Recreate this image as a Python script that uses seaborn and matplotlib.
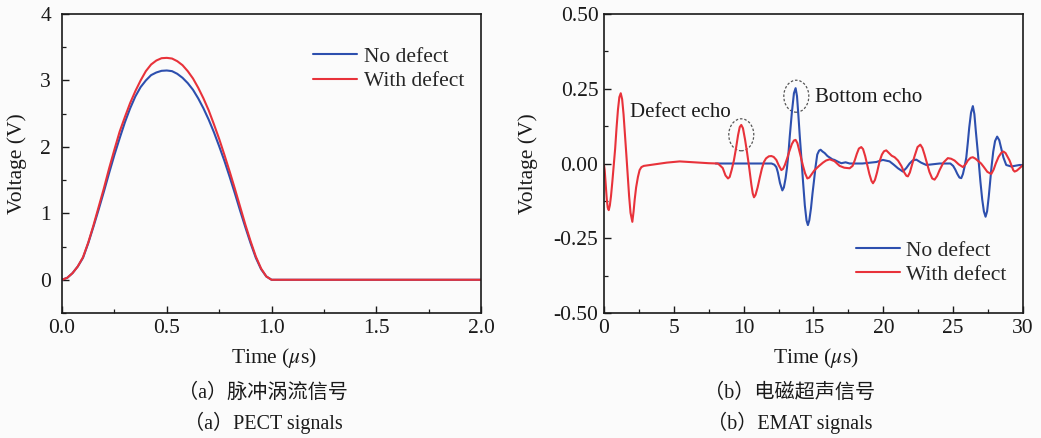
import matplotlib
matplotlib.use("Agg")
import matplotlib.pyplot as plt
from matplotlib.patches import Ellipse
from matplotlib.ticker import MultipleLocator, FormatStrFormatter
import pandas as pd
import seaborn as sns

# ---------------- data ----------------
series_labels = ["No defect", "With defect"]
series_colors = ["#2d4fae", "#e8323a"]

# (a) PECT signals
pect_time = [0.000, 0.025, 0.050, 0.075, 0.100, 0.125, 0.150, 0.175, 0.200, 0.225,
             0.250, 0.275, 0.300, 0.325, 0.350, 0.375, 0.400, 0.425, 0.450, 0.475,
             0.500, 0.525, 0.550, 0.575, 0.600, 0.625, 0.650, 0.675, 0.700, 0.725,
             0.750, 0.775, 0.800, 0.825, 0.850, 0.875, 0.900, 0.925, 0.950, 0.975,
             1.000, 2.000]
pect_no_defect = [0.00, 0.03, 0.10, 0.20, 0.33, 0.55, 0.80, 1.06, 1.33, 1.61,
                  1.88, 2.13, 2.37, 2.58, 2.76, 2.90, 3.00, 3.08, 3.12, 3.145,
                  3.15, 3.14, 3.10, 3.04, 2.96, 2.86, 2.73, 2.58, 2.41, 2.22,
                  2.01, 1.79, 1.55, 1.30, 1.04, 0.79, 0.55, 0.33, 0.16, 0.05,
                  0.00, 0.00]
pect_with_defect = [0.00, 0.03, 0.10, 0.20, 0.34, 0.56, 0.82, 1.10, 1.38, 1.68,
                    1.96, 2.23, 2.45, 2.66, 2.84, 3.00, 3.14, 3.24, 3.30, 3.335,
                    3.34, 3.33, 3.29, 3.23, 3.14, 3.03, 2.89, 2.73, 2.55, 2.34,
                    2.12, 1.88, 1.63, 1.37, 1.10, 0.83, 0.58, 0.35, 0.17, 0.05,
                    0.00, 0.00]

# (b) EMAT signals: (time in us, voltage in V)
emat_no_defect = [
    (8.0, 0.0), (10.0, 0.0), (12.0, 0.0), (12.2, -0.004), (12.34, -0.012),
    (12.45, -0.03), (12.6, -0.065), (12.77, -0.09), (12.88, -0.08), (13.0, -0.05),
    (13.1, -0.015), (13.2, 0.03), (13.3, 0.09), (13.45, 0.17), (13.6, 0.235),
    (13.72, 0.252), (13.82, 0.225), (13.92, 0.16), (14.02, 0.09), (14.13, 0.02),
    (14.25, -0.06), (14.38, -0.14), (14.5, -0.19), (14.6, -0.206), (14.7, -0.19),
    (14.82, -0.15), (14.93, -0.1), (15.03, -0.06), (15.15, -0.01), (15.27, 0.03),
    (15.4, 0.043), (15.51, 0.046), (15.65, 0.04), (15.8, 0.035), (16.0, 0.025),
    (16.16, 0.02), (16.35, 0.014), (16.5, 0.012), (16.75, 0.006), (16.99, 0.001),
    (17.3, 0.004), (17.59, 0.0), (18.5, 0.0), (19.5, 0.005), (19.97, 0.012),
    (20.45, 0.007), (20.75, -0.004), (21.05, -0.016), (21.4, -0.027), (21.65, -0.015),
    (21.88, 0.0), (22.1, 0.01), (22.36, 0.013), (22.7, 0.003), (23.08, -0.005),
    (24.03, 0.0), (24.8, 0.0), (25.0, -0.008), (25.15, -0.02), (25.3, -0.035),
    (25.45, -0.047), (25.58, -0.049), (25.7, -0.035), (25.82, -0.01), (25.94, 0.02),
    (26.05, 0.07), (26.15, 0.12), (26.28, 0.17), (26.41, 0.192), (26.52, 0.165),
    (26.62, 0.11), (26.72, 0.06), (26.84, 0.0), (26.95, -0.06), (27.08, -0.12),
    (27.2, -0.16), (27.32, -0.178), (27.43, -0.16), (27.55, -0.11), (27.65, -0.06),
    (27.75, -0.01), (27.87, 0.04), (28.0, 0.075), (28.15, 0.09), (28.3, 0.078),
    (28.44, 0.051), (28.6, 0.02), (28.8, -0.005), (29.16, -0.01), (29.75, -0.005),
    (30.0, -0.005),
]
emat_with_defect = [
    (0.0, -0.005), (0.05, -0.022), (0.12, -0.07), (0.2, -0.12), (0.27, -0.148),
    (0.34, -0.156), (0.42, -0.14), (0.5, -0.11), (0.6, -0.06), (0.7, -0.005),
    (0.8, 0.05), (0.9, 0.12), (1.0, 0.18), (1.1, 0.222), (1.2, 0.235),
    (1.3, 0.215), (1.4, 0.165), (1.5, 0.10), (1.6, 0.03), (1.7, -0.04),
    (1.8, -0.11), (1.9, -0.165), (2.03, -0.195), (2.12, -0.16), (2.2, -0.12),
    (2.3, -0.08), (2.43, -0.045), (2.55, -0.022), (2.68, -0.012), (2.85, -0.008),
    (3.0, -0.007), (3.5, -0.004), (4.5, 0.003), (5.42, 0.007), (6.5, 0.004),
    (7.5, 0.001), (8.16, 0.0), (8.5, -0.015), (8.7, -0.04), (8.88, -0.05),
    (9.0, -0.045), (9.15, -0.02), (9.3, 0.01), (9.45, 0.05), (9.6, 0.095),
    (9.72, 0.122), (9.83, 0.129), (9.95, 0.118), (10.1, 0.08), (10.25, 0.035),
    (10.4, -0.015), (10.55, -0.07), (10.65, -0.1), (10.74, -0.113), (10.85, -0.105),
    (11.0, -0.08), (11.15, -0.048), (11.3, -0.018), (11.45, 0.005), (11.6, 0.017),
    (11.8, 0.024), (11.98, 0.025), (12.15, 0.022), (12.34, 0.012), (12.5, -0.005),
    (12.7, -0.022), (12.82, -0.018), (12.95, -0.005), (13.1, 0.015), (13.25, 0.038),
    (13.45, 0.065), (13.6, 0.077), (13.72, 0.079), (13.85, 0.068), (13.97, 0.045),
    (14.1, 0.02), (14.25, -0.008), (14.4, -0.033), (14.56, -0.05), (14.7, -0.047),
    (14.85, -0.037), (15.08, -0.022), (15.4, -0.008), (15.68, 0.003), (15.9, 0.01),
    (16.16, 0.014), (16.5, 0.008), (16.87, -0.008), (17.2, -0.014), (17.59, -0.016),
    (17.8, -0.008), (17.95, 0.01), (18.1, 0.032), (18.25, 0.05), (18.42, 0.055),
    (18.55, 0.048), (18.7, 0.025), (18.85, -0.005), (19.0, -0.035), (19.15, -0.058),
    (19.26, -0.066), (19.4, -0.055), (19.55, -0.03), (19.73, 0.007), (19.9, 0.03),
    (20.05, 0.041), (20.21, 0.044), (20.4, 0.035), (20.6, 0.026), (20.81, 0.021),
    (21.05, 0.01), (21.29, -0.008), (21.5, -0.03), (21.65, -0.041), (21.76, -0.043),
    (21.9, -0.03), (22.05, -0.005), (22.24, 0.025), (22.45, 0.055), (22.65, 0.063),
    (22.8, 0.052), (22.95, 0.03), (23.12, 0.002), (23.3, -0.028), (23.5, -0.05),
    (23.67, -0.054), (23.85, -0.042), (24.03, -0.022), (24.3, 0.003), (24.62, 0.018),
    (24.85, 0.016), (25.1, 0.01), (25.4, -0.003), (25.7, -0.012), (25.9, -0.002),
    (26.05, 0.01), (26.25, 0.019), (26.41, 0.021), (26.6, 0.016), (26.8, 0.008),
    (27.0, 0.0), (27.2, -0.012), (27.45, -0.028), (27.73, -0.035), (27.9, -0.02),
    (28.05, 0.0), (28.25, 0.022), (28.45, 0.036), (28.6, 0.04), (28.75, 0.035),
    (28.9, 0.022), (29.04, 0.01), (29.2, -0.01), (29.3, -0.022), (29.4, -0.027),
    (29.55, -0.024), (29.7, -0.018), (30.0, -0.005),
]

# annotations: (text, x, y) and echo circles (center x, center y)
echo_labels = [("Defect echo", 1.84, 0.17), ("Bottom echo", 15.13, 0.221)]
echo_marks = [(9.83, 0.096), (13.77, 0.225)]

captions_left = ["（a）脉冲涡流信号", "（a）PECT signals"]
captions_right = ["（b）电磁超声信号", "（b）EMAT signals"]

# ---------------- style ----------------
sns.set_theme(style="ticks")
plt.rcParams["font.family"] = ["Liberation Serif", "Noto Sans CJK SC"]
plt.rcParams["mathtext.fontset"] = "stix"
plt.rcParams["axes.unicode_minus"] = True

bg = "#fbfbfb"
ink = "#1a1a1a"
fig = plt.figure(figsize=(10.41, 4.38), dpi=100, facecolor=bg)
ax1 = fig.add_axes([0.0596, 0.2854, 0.4025, 0.6826], facecolor=bg)
ax2 = fig.add_axes([0.5802, 0.2854, 0.4025, 0.6826], facecolor=bg)

# ---------------- data frames ----------------
df_pect = pd.concat([
    pd.DataFrame({"time": pect_time, "voltage": pect_no_defect, "signal": series_labels[0]}),
    pd.DataFrame({"time": pect_time, "voltage": pect_with_defect, "signal": series_labels[1]}),
])
df_emat = pd.concat([
    pd.DataFrame(emat_no_defect, columns=["time", "voltage"]).assign(signal=series_labels[0]),
    pd.DataFrame(emat_with_defect, columns=["time", "voltage"]).assign(signal=series_labels[1]),
])
palette = dict(zip(series_labels, series_colors))

for ax, df in ((ax1, df_pect), (ax2, df_emat)):
    sns.lineplot(data=df, x="time", y="voltage", hue="signal", hue_order=series_labels,
                 palette=palette, estimator=None, sort=True, linewidth=1.5,
                 legend=False, ax=ax)

# ---------------- axes formatting ----------------
fs_tick = 15.5
fs_label = 15.5

ax1.set_xlim(0, 2.0)
ax1.set_ylim(-0.5, 4)
ax1.xaxis.set_major_locator(MultipleLocator(0.5))
ax1.xaxis.set_minor_locator(MultipleLocator(0.25))
ax1.yaxis.set_major_locator(MultipleLocator(1))
ax1.yaxis.set_minor_locator(MultipleLocator(0.5))
ax1.xaxis.set_major_formatter(FormatStrFormatter("%.1f"))
ax1.yaxis.set_major_formatter(FormatStrFormatter("%d"))

ax2.set_xlim(0, 30)
ax2.set_ylim(-0.5, 0.5)
ax2.xaxis.set_major_locator(MultipleLocator(5))
ax2.xaxis.set_minor_locator(MultipleLocator(2.5))
ax2.yaxis.set_major_locator(MultipleLocator(0.25))
ax2.yaxis.set_minor_locator(MultipleLocator(0.125))
ax2.yaxis.set_major_formatter(FormatStrFormatter("%.2f"))

for ax in (ax1, ax2):
    for sp in ax.spines.values():
        sp.set_visible(True)
        sp.set_color(ink)
        sp.set_linewidth(1.2)
    ax.tick_params(which="both", direction="in", top=False, right=False,
                   colors=ink, labelsize=fs_tick)
    ax.tick_params(which="major", length=5, width=1.0)
    ax.tick_params(which="minor", length=3, width=0.9)
    ax.tick_params(axis="x", which="major", pad=4)
    ax.set_xlabel("Time ($\\mu$s)", fontsize=fs_label, color=ink)
    ax.set_ylabel("Voltage (V)", fontsize=fs_label, color=ink)
    ax.xaxis.set_label_coords(0.505, -0.11)
    ax.grid(False)

ax1.tick_params(axis="y", which="major", pad=8)
ax2.tick_params(axis="y", which="major", pad=4)
ax1.yaxis.set_label_coords(-0.084, 0.5)
ax2.yaxis.set_label_coords(-0.158, 0.5)

# ---------------- legends ----------------
for ax, anchor in ((ax1, (0.599, 0.816)), (ax2, (0.601, 0.168))):
    handles = ax.get_lines()[:2]
    ax.legend(handles, series_labels, loc="center left", bbox_to_anchor=anchor,
              frameon=False, fontsize=fs_tick, handlelength=2.05, handletextpad=0.3,
              labelspacing=0.2, borderpad=0, borderaxespad=0)

# ---------------- annotations ----------------
for text, x, y in echo_labels:
    ax2.text(x, y, text, fontsize=15, ha="left", va="center", color=ink)
for cx, cy in echo_marks:
    ax2.add_patch(Ellipse((cx, cy), width=1.79, height=0.107, fill=False,
                          edgecolor="#555555", linewidth=0.9, linestyle=(0, (2, 1.5))))

# ---------------- captions ----------------
for (cap_x, caps) in ((263 / 1041, captions_left), (790 / 1041, captions_right)):
    fig.text(cap_x, 1 - 393 / 438, caps[0], ha="center", va="center",
             fontsize=14.5, color=ink)
    fig.text(cap_x, 1 - 423 / 438, caps[1], ha="center", va="center",
             fontsize=14.5, color=ink)

fig.savefig("out.png", dpi=100, facecolor=bg)
